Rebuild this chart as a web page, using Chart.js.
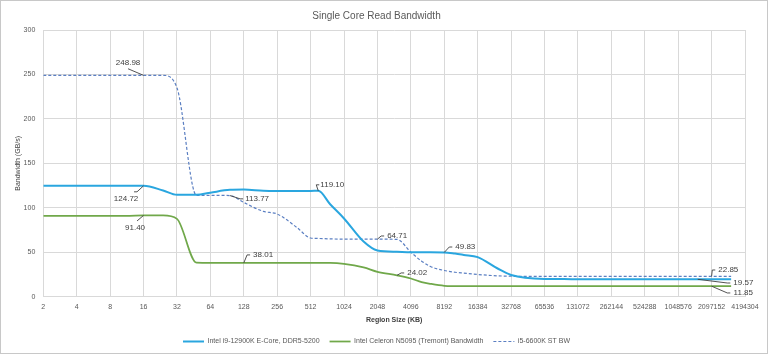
<!DOCTYPE html>
<html><head><meta charset="utf-8">
<script src="https://cdn.jsdelivr.net/npm/chart.js@4"></script>
<style>html,body{margin:0;padding:0;background:#fff}#wrap{width:768px;height:355px}</style>
</head><body><div id="wrap"><canvas id="c" width="768" height="355"></canvas></div>
<script>
// ---- data ----
const chartTitle = 'Single Core Read Bandwidth';
const xAxisTitle = 'Region Size (KB)';
const yAxisTitle = 'Bandwidth (GB/s)';
const regionSizesKB = [2,4,8,12,16,24,32,48,64,96,128,192,256,384,512,600,768,1024,1536,2048,3072,4096,5120,6144,8192,10240,12288,16384,24567,32768,65536,98304,131072,262144,393216,524288,1048576,1572864,2097152,3145728];
const xTickValues = [2,4,8,16,32,64,128,256,512,1024,2048,4096,8192,16384,32768,65536,131072,262144,524288,1048576,2097152,4194304];
const yTickValues = [0,50,100,150,200,250,300];
const seriesNames = ['Intel i9-12900K E-Core, DDR5-5200','Intel Celeron N5095 (Tremont) Bandwidth','i5-6600K ST BW'];
const i9Bandwidth = [124.72,124.72,124.72,124.72,124.72,119.5,114.6,114.6,117,120.2,120.5,119.2,119,119,119,119.10,104,88,62,52,50.5,50,50,49.9,49.83,48.5,47,44.5,32,24.5,20,19.8,19.7,19.6,19.6,19.6,19.6,19.57,19.57,19.57];
const celeronBandwidth = [90.8,90.8,90.8,91,91.40,91.4,87.5,38.2,38.01,38.01,38.01,38.01,38.01,38.01,38.01,38,38,37,33,28,24.02,20.5,16.5,14.5,12.3,12,11.9,11.85,11.85,11.85,11.85,11.85,11.85,11.85,11.85,11.85,11.85,11.85,11.85,11.85];
const i5Bandwidth = [248.98,248.98,248.98,248.98,248.98,248.98,235,114,114,113.77,106,96,93,78,66,65.5,65,64.8,64.8,64.71,64.5,50,40,34,29.5,27.5,26.5,25,23.5,23,22.85,22.85,22.85,22.85,22.85,22.85,22.85,22.85,22.85,22.85];
// which points carry a value label: [series index, point index]
const labelledPoints = [[2,4],[0,4],[1,4],[2,9],[0,15],[1,10],[2,19],[1,20],[0,24],[2,38],[0,37],[1,38]];

// ---- label placement (pixel offsets from the point: text centre dx,dy; leader end lx,ly from text centre) ----
const labelPlacement = [
  {dx:-15.5,dy:-12.6,lx:0,ly:6},
  {dx:-17.5,dy:13,lx:8,ly:-7},
  {dx:-8.5,dy:12.5,lx:2,ly:-7},
  {dx:27.2,dy:3.3,lx:-14,ly:0},
  {dx:14,dy:-6,lx:-13,ly:0},
  {dx:19.3,dy:-8,lx:-13,ly:0},
  {dx:19.7,dy:-3.2,lx:-13,ly:0},
  {dx:20.2,dy:-2.4,lx:-13,ly:0},
  {dx:21,dy:-5.4,lx:-13,ly:0},
  {dx:16.7,dy:-6.4,lx:-13,ly:0},
  {dx:45.6,dy:3.7,lx:-13,ly:0},
  {dx:31.7,dy:6.8,lx:-13,ly:0}
];

const FONT = "'Liberation Sans', Arial, sans-serif";
const seriesValues = [i9Bandwidth, celeronBandwidth, i5Bandwidth];
const seriesColors = ['#2AA6DF', '#70A84A', '#5B7FC2'];
const seriesWidths = [2, 1.75, 1.2];
const seriesDash = [[], [], [3, 2]];

const datasets = seriesValues.map((vals, s) => ({
  label: seriesNames[s],
  data: regionSizesKB.map((x, i) => ({x: x, y: vals[i]})),
  borderColor: seriesColors[s],
  backgroundColor: seriesColors[s],
  borderWidth: seriesWidths[s],
  borderDash: seriesDash[s],
  pointRadius: 0,
  pointStyle: 'line',
  fill: false,
  cubicInterpolationMode: 'monotone'
}));

const frameAndBg = {
  id: 'frameAndBg',
  beforeDraw(chart) {
    const c = chart.ctx;
    c.save(); c.fillStyle = '#fff'; c.fillRect(0, 0, chart.width, chart.height); c.restore();
  },
  afterDraw(chart) {
    const c = chart.ctx;
    c.save(); c.strokeStyle = '#c8c8c8'; c.lineWidth = 1;
    c.strokeRect(0.5, 0.5, chart.width - 1, chart.height - 2);
    c.restore();
  }
};

const dataLabels = {
  id: 'dataLabels',
  afterDatasetsDraw(chart) {
    const c = chart.ctx;
    c.save();
    c.font = '8px ' + FONT;
    c.textAlign = 'center';
    c.textBaseline = 'middle';
    labelledPoints.forEach(([s, i], k) => {
      const el = chart.getDatasetMeta(s).data[i];
      const p = labelPlacement[k];
      const tx = el.x + p.dx, ty = el.y + p.dy;
      const ex = tx + p.lx, ey = ty + p.ly;
      c.strokeStyle = '#404040'; c.lineWidth = 0.9;
      c.beginPath();
      c.moveTo(el.x, el.y);
      if (Math.abs(p.lx) > Math.abs(p.ly)) {
        c.lineTo(ex + (p.lx < 0 ? -3 : 3), ey);
        c.lineTo(ex, ey);
      } else {
        c.lineTo(ex, ey);
      }
      c.stroke();
      c.fillStyle = '#404040';
      c.fillText(seriesValues[s][i].toFixed(2), tx, ty);
    });
    c.restore();
  }
};

new Chart(document.getElementById('c'), {
  type: 'line',
  data: { datasets },
  plugins: [frameAndBg, dataLabels],
  options: {
    responsive: false,
    devicePixelRatio: 1,
    animation: false,
    layout: { padding: { left: 8, right: 23, top: 0, bottom: 0 } },
    plugins: {
      tooltip: { enabled: false },
      title: { display: true, text: chartTitle, color: '#595959', font: { family: FONT, size: 10, weight: 'normal', lineHeight: 1.2 }, padding: { top: 10, bottom: 8 } },
      legend: {
        position: 'bottom',
        labels: {
          usePointStyle: true, pointStyleWidth: 21, boxHeight: 7, padding: 10, color: '#595959', font: { family: FONT, size: 7 },
          generateLabels: (chart) => Chart.defaults.plugins.legend.labels.generateLabels(chart).map((item) => {
            const ds = chart.data.datasets[item.datasetIndex];
            item.lineDash = ds.borderDash;
            item.lineWidth = ds.borderWidth;
            item.strokeStyle = ds.borderColor;
            item.pointStyle = 'line';
            return item;
          })
        }
      }
    },
    scales: {
      x: {
        type: 'logarithmic', min: 2, max: 4194304,
        afterBuildTicks: (s) => { s.ticks = xTickValues.map(v => ({ value: v })); },
        afterFit: (s) => { s.height = 31.3; },
        ticks: { autoSkip: false, maxRotation: 0, minRotation: 0, padding: 6, color: '#595959', font: { family: FONT, size: 7 }, callback: (v) => String(v) },
        grid: { color: '#d9d9d9', drawTicks: false },
        border: { color: '#d9d9d9' },
        title: { display: true, text: xAxisTitle, color: '#404040', font: { family: FONT, size: 7, weight: 'bold' }, padding: { top: 0, bottom: 4 } }
      },
      y: {
        min: 0, max: 300,
        afterBuildTicks: (s) => { s.ticks = yTickValues.map(v => ({ value: v })); },
        afterFit: (s) => { s.width = 35.3; },
        ticks: { padding: 8, color: '#595959', font: { family: FONT, size: 7 } },
        grid: { color: '#d9d9d9', drawTicks: false },
        border: { color: '#d9d9d9' },
        title: { display: true, text: yAxisTitle, color: '#404040', font: { family: FONT, size: 7 }, padding: { top: 6, bottom: 0 } }
      }
    }
  }
});
</script>
</body></html>
